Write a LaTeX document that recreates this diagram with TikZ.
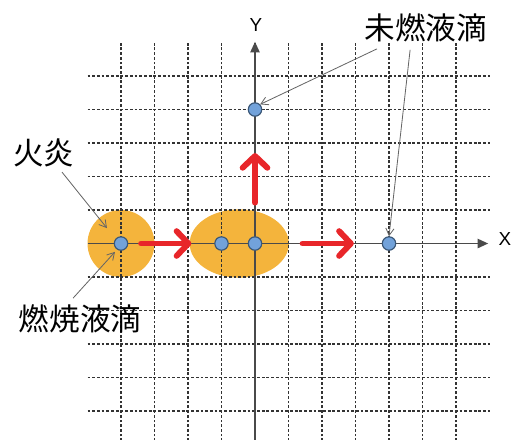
\documentclass[tikz,border=0pt]{standalone}
\usepackage{fontspec}
\newfontfamily\jp{Noto Sans CJK JP}
\newfontfamily\lab{Liberation Sans}
\usetikzlibrary{arrows.meta}
\definecolor{flame}{HTML}{F4B43C}
\definecolor{redarr}{HTML}{E8262A}
\definecolor{dotfill}{HTML}{72A2DA}
\definecolor{dotline}{HTML}{3B5878}
\definecolor{axisc}{HTML}{4A4A4A}
\definecolor{gridc}{HTML}{333333}
\tikzset{
  gridline/.style={draw=gridc, line width=0.9pt, dash pattern=on 2.4pt off 1.6pt},
  axisline/.style={draw=axisc, line width=1.2pt, -{Triangle[length=9pt,width=8pt]}},
  drop/.style={circle, fill=dotfill, draw=dotline, line width=1pt, minimum size=0.4cm, inner sep=0pt},
  flamezone/.style={fill=flame},
  movearrow/.style={draw=redarr, line width=5pt, line cap=round, -{Straight Barb[length=10pt,width=21pt,round]}},
  leader/.style={draw=axisc!85, line width=0.7pt, -{Straight Barb[length=6pt,width=7pt]}},
  jplabel/.style={font=\jp\fontsize{26pt}{28pt}\selectfont, text=black, inner sep=0pt},
  axlabel/.style={font=\lab\fontsize{16pt}{18pt}\selectfont, text=black, inner sep=0pt}
}
\begin{document}
\begin{tikzpicture}
\useasboundingbox (-7.612,-5.836) rectangle (7.731,7.269);
% flame regions
\fill[flamezone] (-4,0) circle [radius=1.0];
\fill[flamezone] (-0.47,0) ellipse [x radius=1.48, y radius=1.02];
% grid
\foreach \k in {-4,...,6} { \draw[gridline] (\k,-5.9) -- (\k,6.0); }
\foreach \j in {-5,...,-1,1,2,3,4,5} { \draw[gridline] (-5,\j) -- (7,\j); }
% axes
\draw[axisline] (-5,0) -- (6.96,0);
\draw[axisline] (0,-5.9) -- (0,6.02);
\node[axlabel] (xl) at (7.46,0.13) {X};
\node[axlabel] (yl) at (0.03,6.52) {Y};
% red motion arrows
\coordinate (r1a) at (-3.4,0); \coordinate (r1b) at (-1.9,0);
\coordinate (r2a) at (1.42,0); \coordinate (r2b) at (2.95,0);
\coordinate (r3a) at (0,1.22); \coordinate (r3b) at (0,2.7);
\draw[movearrow] (r1a) -- (r1b);
\draw[movearrow] (r2a) -- (r2b);
\draw[movearrow] (r3a) -- (r3b);
% droplets
\node[drop] (d1) at (-4,0) {};
\node[drop] (d2) at (-1,0) {};
\node[drop] (d3) at (0,0) {};
\node[drop] (d4) at (0,4) {};
\node[drop] (d5) at (4,0) {};
% labels
\node[jplabel] (flame) at (-6.30,2.70) {火炎};
\node[jplabel] (burn) at (-5.22,-2.25) {燃焼液滴};
\node[jplabel] (unburn) at (5.10,6.43) {未燃液滴};
% leaders
\coordinate (fl1) at (-5.76,2.13); \coordinate (fl2) at (-4.42,0.46);
\coordinate (bu1) at (-5.43,-1.63); \coordinate (bu2) at (-4.18,-0.25);
\coordinate (un1) at (3.64,5.81); \coordinate (un2) at (4.63,5.78);
\draw[leader] (fl1) -- (fl2);
\draw[leader] (bu1) -- (bu2);
\draw[leader] (un1) -- (d4.north east);
\draw[leader] (un2) -- (d5.north);
\end{tikzpicture}
\end{document}
